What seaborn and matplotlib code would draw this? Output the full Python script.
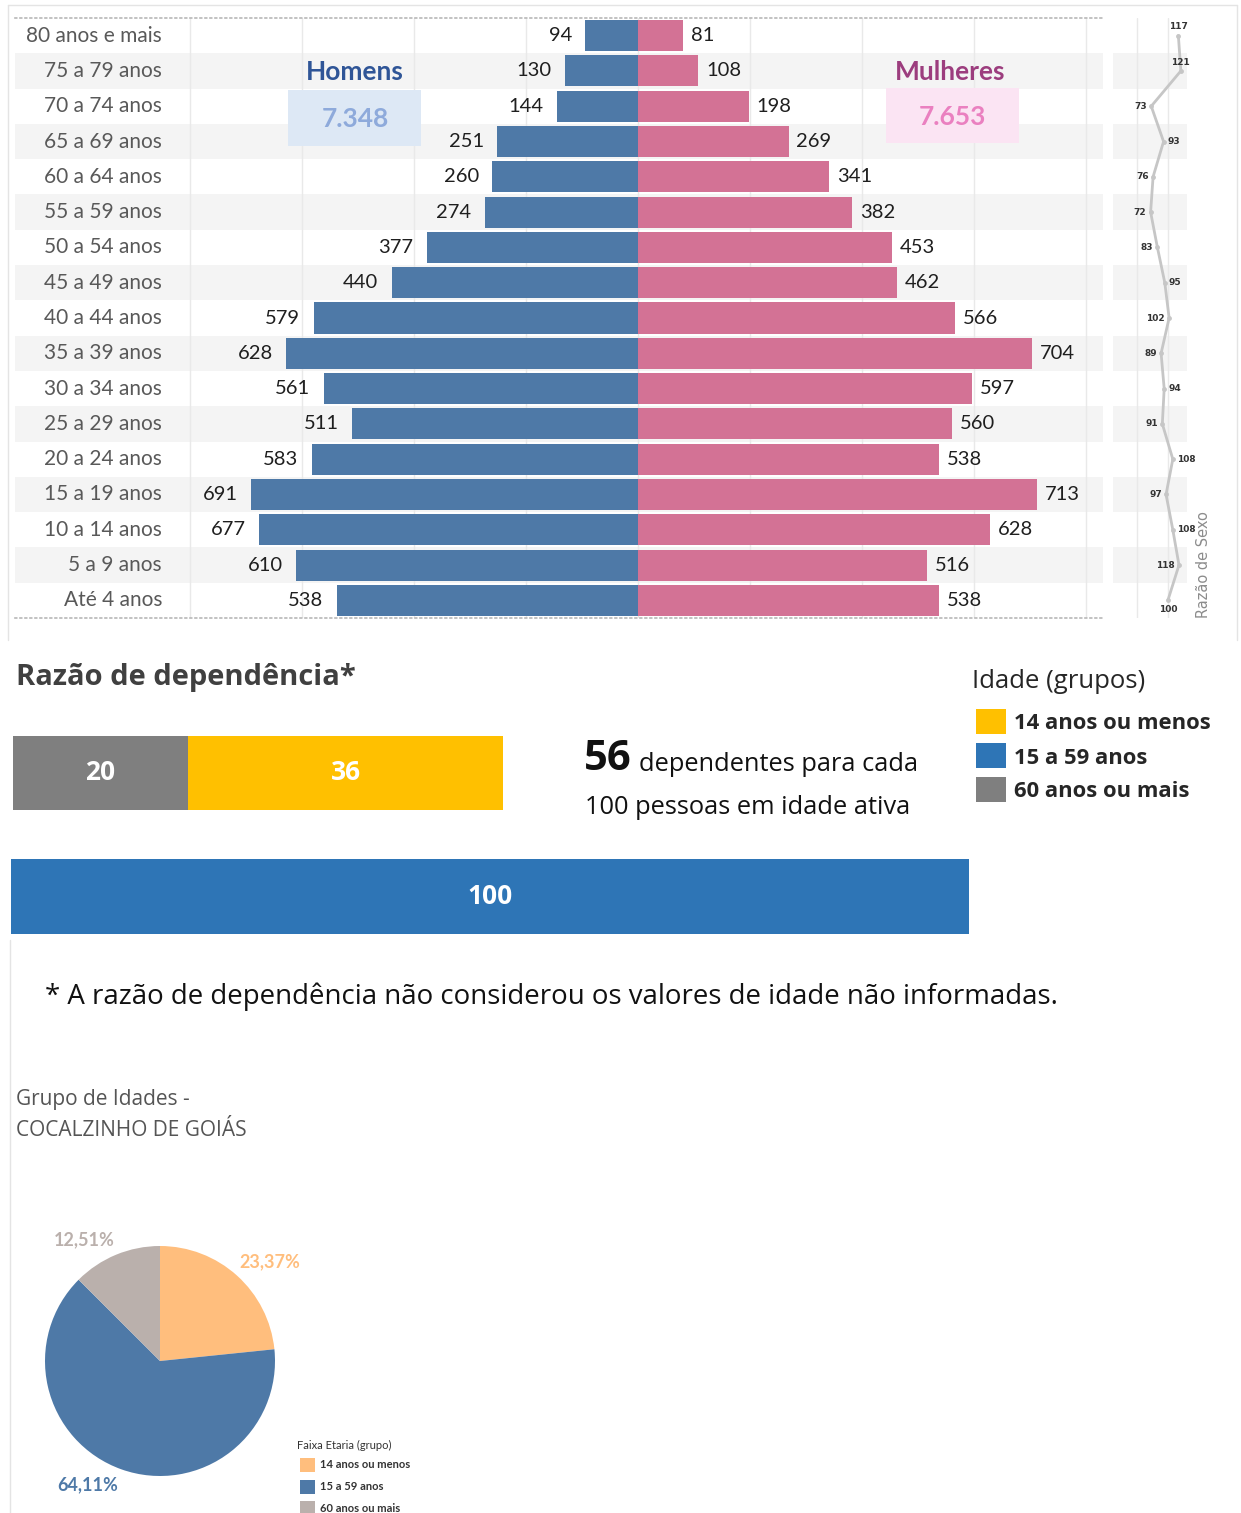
import matplotlib
matplotlib.use("Agg")
import matplotlib.pyplot as plt
from matplotlib.patches import Rectangle
from matplotlib.lines import Line2D
import matplotlib.transforms as mtransforms
import seaborn as sns

# === Data ===
ages = ["80 anos e mais", "75 a 79 anos", "70 a 74 anos", "65 a 69 anos",
        "60 a 64 anos", "55 a 59 anos", "50 a 54 anos", "45 a 49 anos",
        "40 a 44 anos", "35 a 39 anos", "30 a 34 anos", "25 a 29 anos",
        "20 a 24 anos", "15 a 19 anos", "10 a 14 anos", "5 a 9 anos", "Até 4 anos"]
homens = [94, 130, 144, 251, 260, 274, 377, 440, 579, 628, 561, 511, 583, 691, 677, 610, 538]
mulheres = [81, 108, 198, 269, 341, 382, 453, 462, 566, 704, 597, 560, 538, 713, 628, 516, 538]
razao_sexo = [117, 121, 73, 93, 76, 72, 83, 95, 102, 89, 94, 91, 108, 97, 108, 118, 100]
total_homens = "7.348"
total_mulheres = "7.653"

dep_idosos = 20
dep_jovens = 36
dep_ativos = 100
dep_total = dep_idosos + dep_jovens

grupos = ["14 anos ou menos", "15 a 59 anos", "60 anos ou mais"]
pie_pct = [23.37, 64.11, 12.51]
municipio = "COCALZINHO DE GOIÁS"

# === Style ===
sns.set_theme(style="white")
plt.rcParams["font.family"] = ["Lato", "DejaVu Sans"]

BLUE_M = "#4e79a7"
PINK_F = "#d37295"
BAND = "#f4f4f4"
GRID = "#e9e9e9"

W, H = 1241, 1513
fig = plt.figure(figsize=(W / 100, H / 100), dpi=100)


def box(x0, y0, x1, y1):
    return [x0 / W, 1 - y1 / H, (x1 - x0) / W, (y1 - y0) / H]


def ftext(x, y, s, **kw):
    kw.setdefault("va", "center")
    kw.setdefault("zorder", 5)
    fig.text(x / W, 1 - y / H, s, **kw)


def frect(x0, y0, x1, y1, color, z=4):
    fig.add_artist(Rectangle((x0 / W, 1 - y1 / H), (x1 - x0) / W, (y1 - y0) / H,
                             transform=fig.transFigure, color=color, lw=0, zorder=z))


def fline(x0, y0, x1, y1, color="#e4e4e4"):
    fig.add_artist(Line2D([x0 / W, x1 / W], [1 - y0 / H, 1 - y1 / H],
                          transform=fig.transFigure, color=color, lw=1))


# frame lines
fline(8, 5, 1237, 5)
fline(8, 5, 8, 640)
fline(1237, 5, 1237, 640)
fline(10, 940, 10, 1513)

# === Pyramid ===
scale = 0.56  # px per person
ax = fig.add_axes(box(15, 18, 1103, 618))
sns.barplot(x=[-v for v in homens], y=ages, color=BLUE_M, saturation=1,
            width=0.88, linewidth=0, orient="h", ax=ax)
sns.barplot(x=mulheres, y=ages, color=PINK_F, saturation=1,
            width=0.88, linewidth=0, orient="h", ax=ax)
ax.set_xlim(-(638 - 15) / scale, (1103 - 638) / scale)
ax.set_ylim(len(ages) - 0.5, -0.5)
ax.set_xticks(range(-800, 801, 200))
ax.set_xticklabels([])
ax.set_yticks([])
ax.set_xlabel("")
ax.set_ylabel("")
ax.tick_params(length=0)
ax.grid(axis="x", color=GRID, lw=1)
ax.set_axisbelow(True)
for i in range(1, len(ages), 2):
    ax.axhspan(i - 0.5, i + 0.5, color=BAND, zorder=0.1, lw=0)
for s in ["left", "right"]:
    ax.spines[s].set_visible(False)
for s in ["top", "bottom"]:
    ax.spines[s].set_color("#b8b8b8")
    ax.spines[s].set_linestyle((0, (1, 2)))
    ax.spines[s].set_linewidth(1.2)

trans = mtransforms.blended_transform_factory(ax.transAxes, ax.transData)
for i, lab in enumerate(ages):
    ax.text((162 - 15) / 1088, i, lab, transform=trans, ha="right", va="center",
            fontsize=15, color="#595959")
for i, v in enumerate(homens):
    ax.text(-v - 24, i, str(v), ha="right", va="center", fontsize=14.5, color="#1f1f1f")
for i, v in enumerate(mulheres):
    ax.text(v + 14, i, str(v), ha="left", va="center", fontsize=14.5, color="#1f1f1f")

# totals
ftext(355, 72, "Homens", ha="center", fontsize=19, weight="bold", color="#2f5597")
frect(288, 90, 421, 146, "#dde8f5")
ftext(355, 119, total_homens, ha="center", fontsize=19, weight="bold", color="#8eaadb")
ftext(950, 72, "Mulheres", ha="center", fontsize=19, weight="bold", color="#9c3d7e")
frect(886, 88, 1019, 143, "#fbe4f3")
ftext(952, 117, total_mulheres, ha="center", fontsize=19, weight="bold", color="#ea80c0")

# === Sex ratio ===
ax2 = fig.add_axes(box(1113, 18, 1187, 618))
ax2.set_facecolor("none")
for i in range(1, len(ages), 2):
    ax2.axhspan(i - 0.5, i + 0.5, color=BAND, zorder=0.1, lw=0)
sns.lineplot(x=razao_sexo, y=list(range(len(ages))), sort=False, orient="y",
             color="#c6c6c6", lw=2, marker="o", markersize=3.5,
             markeredgewidth=0, ax=ax2)
ax2.set_xlim(11, 131)
ax2.set_ylim(len(ages) - 0.5, -0.5)
ax2.set_xticks([50, 100])
ax2.set_xticklabels([])
ax2.set_yticks([])
ax2.tick_params(length=0)
ax2.grid(axis="x", color=GRID, lw=1)
ax2.set_axisbelow(True)
ax2.set_xlabel("")
ax2.set_ylabel("")
for s in ax2.spines.values():
    s.set_visible(False)

pos = ["above", "above", "left", "right", "left", "left", "left", "right", "left",
       "left", "right", "left", "right", "left", "right", "left", "below"]
offs = {"above": (0, 3, "center", "bottom"), "below": (0, -3, "center", "top"),
        "left": (-3, 0, "right", "center"), "right": (3, 0, "left", "center")}
for i, (v, p) in enumerate(zip(razao_sexo, pos)):
    dx, dy, ha, va = offs[p]
    ax2.annotate(str(v), (v, i), xytext=(dx, dy), textcoords="offset points",
                 ha=ha, va=va, fontsize=6.5, weight="bold", color="#333333",
                 family="DejaVu Sans")
ftext(1203, 618, "Razão de Sexo", rotation=90, ha="center", va="bottom",
      fontsize=10.5, color="#8c8c8c", family="DejaVu Sans")

# === Dependency ratio ===
OS = ["Open Sans", "DejaVu Sans"]
ftext(16, 677, "Razão de dependência*", fontsize=21, weight="bold",
      color="#404040", family=OS)

ax3 = fig.add_axes(box(13, 736, 503, 810))
sns.barplot(x=[dep_total], y=[""], color="#ffc000", saturation=1, width=1,
            linewidth=0, orient="h", ax=ax3)
sns.barplot(x=[dep_idosos], y=[""], color="#7f7f7f", saturation=1, width=1,
            linewidth=0, orient="h", ax=ax3)
ax3.set_xlim(0, dep_total)
ax3.set_ylim(0.5, -0.5)
ax3.axis("off")
ax3.text(dep_idosos / 2, 0, str(dep_idosos), ha="center", va="center",
         fontsize=19, weight="bold", color="white", family=OS)
ax3.text(dep_idosos + dep_jovens / 2, 0, str(dep_jovens), ha="center", va="center",
         fontsize=19, weight="bold", color="white", family=OS)

ax4 = fig.add_axes(box(11, 859, 969, 934))
sns.barplot(x=[dep_ativos], y=[""], color="#2e75b6", saturation=1, width=1,
            linewidth=0, orient="h", ax=ax4)
ax4.set_xlim(0, dep_ativos)
ax4.set_ylim(0.5, -0.5)
ax4.axis("off")
ax4.text(dep_ativos / 2, 0, str(dep_ativos), ha="center", va="center",
         fontsize=19, weight="bold", color="white", family=OS)

ftext(584, 759, str(dep_total), fontsize=30, weight="bold", color="#111111", family=OS)
ftext(639, 764, "dependentes para cada", fontsize=18.3, color="#111111", family=OS)
ftext(585, 807, "100 pessoas em idade ativa", fontsize=18.3, color="#111111", family=OS)

# legend
ftext(972, 682, "Idade (grupos)", fontsize=18.5, color="#262626", family=OS)
dep_colors = ["#ffc000", "#2e75b6", "#7f7f7f"]
for k, (g, c) in enumerate(zip(grupos, dep_colors)):
    y0 = 709 + k * 34
    frect(976, y0, 1006, y0 + 25, c)
    ftext(1014, y0 + 15, g, fontsize=15.8, weight="bold", color="#262626", family=OS)

ftext(45, 997, "* A razão de dependência não considerou os valores de idade não informadas.",
      fontsize=19.9, color="#111111", family=OS)

# === Pie ===
ftext(16, 1100, "Grupo de Idades -", fontsize=15, color="#555555", family=OS)
ftext(16, 1130, municipio, fontsize=15, color="#555555", family=OS)

pie_colors = ["#ffbe7d", BLUE_M, "#bab0ac"]
ax5 = fig.add_axes(box(45, 1246, 275, 1476))
ax5.pie(pie_pct, colors=pie_colors, startangle=90, counterclock=False,
        wedgeprops=dict(linewidth=0))
ax5.set_xlim(-1, 1)
ax5.set_ylim(-1, 1)
ax5.set_aspect("equal")

pie_lab_xy = [(270, 1262), (88, 1485), (84, 1240)]
for v, c, (x, y) in zip(pie_pct, pie_colors, pie_lab_xy):
    ftext(x, y, f"{v:.2f}".replace(".", ",") + "%", ha="center", fontsize=13,
          weight="bold", color=c)

ftext(297, 1445, "Faixa Etaria (grupo)", fontsize=8, color="#333333")
for k, (g, c) in enumerate(zip(grupos, pie_colors)):
    y0 = 1458 + k * 21.5
    frect(300, y0, 315, y0 + 14, c)
    ftext(320, y0 + 7, g, fontsize=8, weight="bold", color="#333333")

fig.savefig("out.png", dpi=100)
